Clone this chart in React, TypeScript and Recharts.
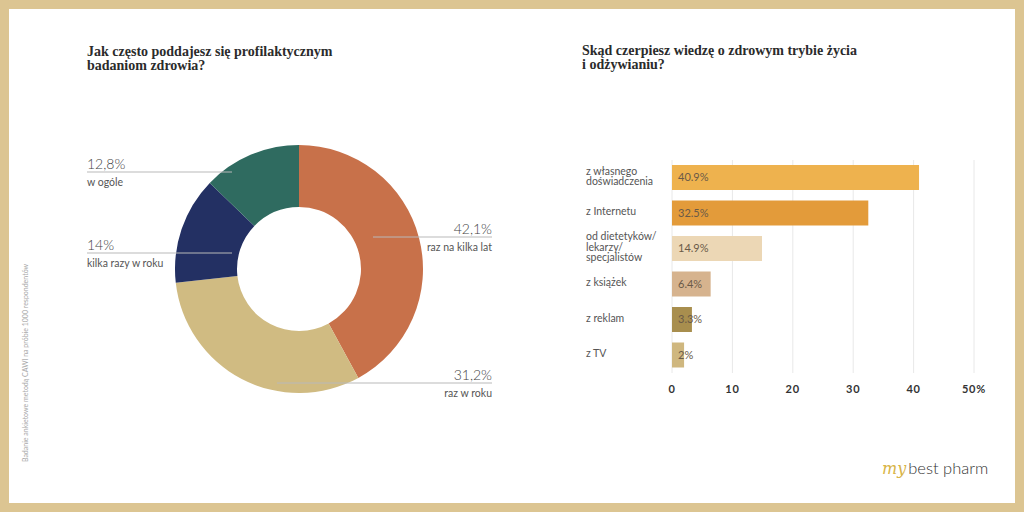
import { PieChart, Pie, Cell, BarChart, Bar, XAxis, YAxis, CartesianGrid, LabelList } from 'recharts'

// Jak często poddajesz się profilaktycznym badaniom zdrowia?
const checkupLabels = ['raz na kilka lat', 'raz w roku', 'kilka razy w roku', 'w ogóle']
const checkupShares = [42.1, 31.2, 14, 12.8]
const checkupColors = ['#c8714a', '#d0bb82', '#233063', '#2f6b60']

// Skąd czerpiesz wiedzę o zdrowym trybie życia i odżywianiu?
const sourceLabels = [
  'z własnego\ndoświadczenia',
  'z Internetu',
  'od dietetyków/\nlekarzy/\nspecjalistów',
  'z książek',
  'z reklam',
  'z TV',
]
const sourceShares = [40.9, 32.5, 14.9, 6.4, 3.3, 2]
const sourceColors = ['#eeb24e', '#e39b3a', '#ecd7b5', '#d6b38e', '#a88e4e', '#cfb77f']
const sourceTicks = [0, 10, 20, 30, 40, 50]

const checkupData = checkupLabels.map((name, i) => ({ name, value: checkupShares[i] }))
const sourceData = sourceLabels.map((name, i) => ({ name, value: sourceShares[i] }))

const SANS = 'Lato, "Noto Sans", sans-serif'
const SERIF = '"Liberation Serif", "DejaVu Serif", serif'

// callout placement around the donut, relative to its centre
const callouts = [
  { side: 'right', lineDy: -32, startDx: 74 },
  { side: 'right', lineDy: 114, startDx: -22 },
  { side: 'left', lineDy: -16, startDx: -67 },
  { side: 'left', lineDy: -97, startDx: -67 },
]

const fmtComma = (v: number) => `${String(v).replace('.', ',')}%`

function DonutCallout(props: any) {
  const { cx, cy, index } = props
  const c = callouts[index]
  const y = cy + c.lineDy
  const x0 = cx + c.startDx
  const right = c.side === 'right'
  const edge = right ? cx + 193 : cx - 212
  const anchor = right ? 'end' : 'start'
  return (
    <g>
      <line x1={x0} y1={y} x2={edge} y2={y} stroke="#b9b9b9" strokeWidth={1} />
      <text x={edge} y={y - 3} textAnchor={anchor} fontFamily={SANS} fontWeight={300} fontSize={14} fill="#444">
        {fmtComma(checkupShares[index])}
      </text>
      <text x={edge} y={y + 14} textAnchor={anchor} fontFamily={SANS} fontSize={10.5} fill="#555">
        {checkupLabels[index]}
      </text>
    </g>
  )
}

function SourceTick(props: any) {
  const { y, payload } = props
  const lines = String(payload.value).split('\n')
  const lh = 10.5
  const top = y - ((lines.length - 1) * lh) / 2 - 1
  return (
    <text x={16} y={top} fontFamily={SANS} fontSize={10.5} fill="#555" dominantBaseline="middle">
      {lines.map((l, i) => (
        <tspan key={i} x={16} y={top + i * lh}>
          {l}
        </tspan>
      ))}
    </text>
  )
}

function ValueTick(props: any) {
  const { x, y, payload } = props
  const v = payload.value
  return (
    <text x={x} y={y + 12} textAnchor="middle" fontFamily={SANS} fontWeight={700} fontSize={11} fill="#333" letterSpacing={0.8}>
      {v === 50 ? `${v}%` : v}
    </text>
  )
}

const titleStyle: React.CSSProperties = {
  position: 'absolute',
  fontFamily: SERIF,
  fontWeight: 700,
  fontSize: 14,
  lineHeight: '14px',
  color: '#2b2b2b',
  margin: 0,
}

export default function App() {
  return (
    <div
      style={{
        position: 'absolute',
        left: 0,
        top: 0,
        width: 1024,
        height: 512,
        boxSizing: 'border-box',
        border: '9px solid #dcc592',
        background: '#fff',
        overflow: 'hidden',
      }}
    >
      <div style={{ position: 'absolute', left: -9, top: -9, width: 1024, height: 512 }}>
        <div style={{ ...titleStyle, left: 87, top: 45 }}>
          Jak często poddajesz się profilaktycznym
          <br />
          badaniom zdrowia?
        </div>
        <div style={{ ...titleStyle, left: 582, top: 44 }}>
          Skąd czerpiesz wiedzę o zdrowym trybie życia
          <br />i odżywianiu?
        </div>

        <div style={{ position: 'absolute', left: 0, top: 0 }}>
          <PieChart width={520} height={512} margin={{ top: 0, right: 0, bottom: 0, left: 0 }}>
            <Pie
              data={checkupData}
              dataKey="value"
              nameKey="name"
              cx={299}
              cy={269}
              innerRadius={62}
              outerRadius={124}
              startAngle={90}
              endAngle={-270}
              stroke="none"
              labelLine={false}
              label={DonutCallout}
              isAnimationActive={false}
            >
              {checkupData.map((d, i) => (
                <Cell key={d.name} fill={checkupColors[i]} />
              ))}
            </Pie>
          </PieChart>
        </div>

        <div style={{ position: 'absolute', left: 570, top: 150 }}>
          <BarChart
            width={430}
            height={260}
            data={sourceData}
            layout="vertical"
            margin={{ top: 10, right: 26, bottom: 10, left: 0 }}
          >
            <CartesianGrid horizontal={false} stroke="#e8e8e8" />
            <XAxis
              type="number"
              domain={[0, 50]}
              ticks={sourceTicks}
              axisLine={false}
              tickLine={false}
              height={27}
              tick={<ValueTick />}
            />
            <YAxis
              type="category"
              dataKey="name"
              width={102}
              interval={0}
              axisLine={false}
              tickLine={false}
              tick={<SourceTick />}
            />
            <Bar dataKey="value" barSize={25} isAnimationActive={false}>
              {sourceData.map((d, i) => (
                <Cell key={d.name} fill={sourceColors[i]} />
              ))}
              <LabelList
                dataKey="value"
                position="insideLeft"
                offset={6}
                formatter={(v: any) => `${v}%`}
                style={{ fontFamily: SANS, fontSize: 11, fill: '#6a5a48' }}
              />
            </Bar>
          </BarChart>
        </div>

        <div
          style={{
            position: 'absolute',
            left: 25,
            top: 363,
            transform: 'translate(-50%, -50%) rotate(-90deg)',
            whiteSpace: 'nowrap',
            fontFamily: SANS,
            fontSize: 7,
            color: '#a8a8a8',
          }}
        >
          Badanie ankietowe metodą CAWI na próbie 1000 respondentów
        </div>

        <div style={{ position: 'absolute', left: 882, top: 458, whiteSpace: 'nowrap' }}>
          <span style={{ fontFamily: '"DejaVu Serif", serif', fontStyle: 'italic', fontSize: 16, color: '#d8b446' }}>my</span>
          <span style={{ fontFamily: SANS, fontWeight: 300, fontSize: 16.5, color: '#333', marginLeft: 2 }}>best pharm</span>
        </div>
      </div>
    </div>
  )
}
